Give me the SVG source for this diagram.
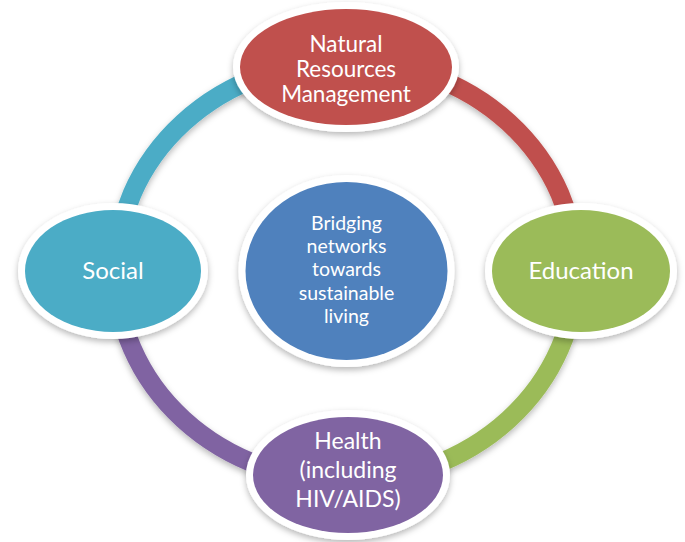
<svg xmlns="http://www.w3.org/2000/svg" width="685" height="542" viewBox="0 0 685 542">
  <defs>
    <filter id="sh" x="-20%" y="-20%" width="140%" height="150%">
      <feDropShadow dx="0" dy="3" stdDeviation="3" flood-color="#000" flood-opacity="0.28"/>
    </filter>
    <style>
      .arc { fill: none; stroke-width: 19; filter: url(#sh); }
      .rim { fill: #ffffff; filter: url(#sh); }
      .lbl { fill: #ffffff; font-family: Lato, "Open Sans", "Liberation Sans", sans-serif; text-anchor: middle; }
    </style>
  </defs>
  <rect width="685" height="542" fill="#ffffff"/>
  <g id="connectors">
    <path class="arc" stroke="#4BACC6" d="M116,271 A230,210 0 0 1 346,61"/>
    <path class="arc" stroke="#C0504D" d="M346,61 A230,210 0 0 1 576,271"/>
    <path class="arc" stroke="#9BBB59" d="M576,271 A230,210 0 0 1 346,481"/>
    <path class="arc" stroke="#8064A2" d="M346,481 A230,210 0 0 1 116,271"/>
  </g>
  <g id="center">
    <ellipse class="rim" cx="346.5" cy="271" rx="108" ry="96"/>
    <ellipse cx="346.5" cy="271" rx="101" ry="89" fill="#4F81BD"/>
    <text class="lbl" font-size="19.5" x="346.5" y="230">Bridging</text>
    <text class="lbl" font-size="19.5" x="346.5" y="253">networks</text>
    <text class="lbl" font-size="19.5" x="346.5" y="276">towards</text>
    <text class="lbl" font-size="19.5" x="346.5" y="300">sustainable</text>
    <text class="lbl" font-size="19.5" x="346.5" y="323">living</text>
  </g>
  <g id="natural-resources">
    <ellipse class="rim" cx="346" cy="67" rx="113" ry="65"/>
    <ellipse cx="346" cy="67" rx="106" ry="58" fill="#C0504D"/>
    <text class="lbl" font-size="22.5" x="346" y="52">Natural</text>
    <text class="lbl" font-size="22.5" x="346" y="77">Resources</text>
    <text class="lbl" font-size="22.5" x="346" y="102">Management</text>
  </g>
  <g id="education">
    <ellipse class="rim" cx="581" cy="271" rx="96" ry="68"/>
    <ellipse cx="581" cy="271" rx="89" ry="61" fill="#9BBB59"/>
    <text class="lbl" font-size="24" x="581" y="279">Education</text>
  </g>
  <g id="health">
    <ellipse class="rim" cx="348" cy="475" rx="102" ry="65"/>
    <ellipse cx="348" cy="475" rx="95" ry="58" fill="#8064A2"/>
    <text class="lbl" font-size="23" x="348" y="449">Health</text>
    <text class="lbl" font-size="23" x="348" y="478">(including</text>
    <text class="lbl" font-size="23" x="348" y="507">HIV/AIDS)</text>
  </g>
  <g id="social">
    <ellipse class="rim" cx="113" cy="271" rx="95" ry="68"/>
    <ellipse cx="113" cy="271" rx="88" ry="61" fill="#4BACC6"/>
    <text class="lbl" font-size="24" x="113" y="279">Social</text>
  </g>
</svg>
